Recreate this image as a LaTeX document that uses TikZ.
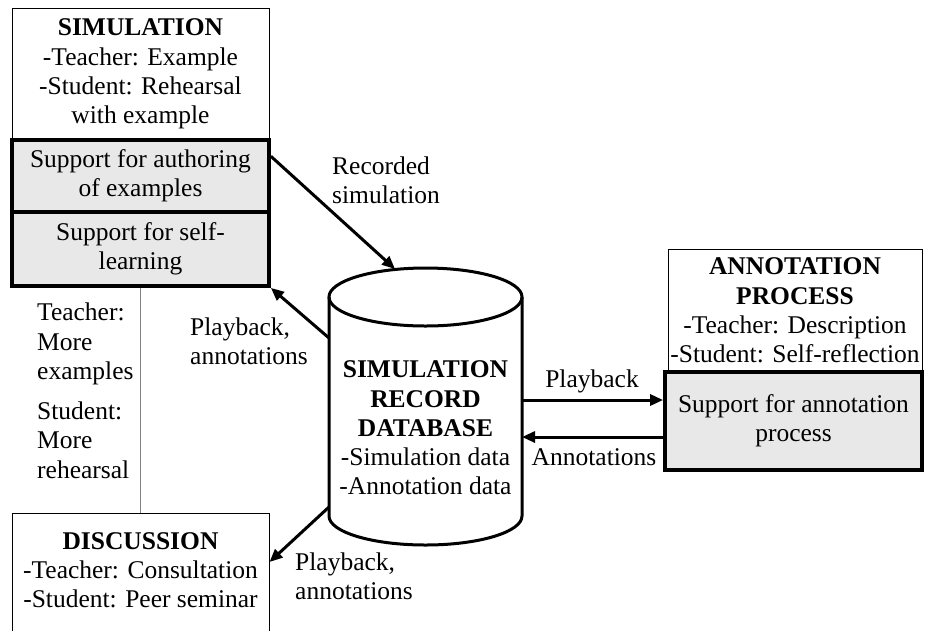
\documentclass[tikz,border=0pt]{standalone}
\usepackage{fontspec}
\setmainfont{Liberation Serif}
\usepackage{tikz}
\usetikzlibrary{calc}
\usetikzlibrary{arrows.meta, positioning}
\definecolor{boxgray}{RGB}{232,232,232}

\begin{document}
\begin{tikzpicture}[x=1pt, y=-1pt, every node/.style={font=\fontsize{25.5}{29.3}\selectfont, inner sep=0pt}, plainbox/.style={draw, line width=1pt, minimum width=257pt, align=center}, supportbox/.style={draw, line width=3.8pt, fill=boxgray, minimum width=257pt, align=center}, flow/.style={-{Triangle[length=13pt,width=11pt]}, line width=3pt}, flowtext/.style={align=left}]
    \useasboundingbox (0,0) rectangle (925,630);
    \node[plainbox, minimum height=132pt] (sim) at (140.5,74) {\textbf{SIMULATION}\\-Teacher: Example\\-Student: Rehearsal\\with example};
    \node[supportbox, minimum height=72pt] (auth) at (140.5,176) {Support for authoring\\of examples};
    \node[supportbox, minimum height=74pt] (self) at (140.5,249) {Support for self-\\learning};
    \node[plainbox, anchor=north, inner ysep=19pt, text depth=60pt] (disc) at (140.5,513) {\textbf{DISCUSSION}\\-Teacher: Consultation\\-Student: Peer seminar};
    \node[plainbox, minimum width=254pt, minimum height=123pt] (anno) at (795,310.5) {\textbf{ANNOTATION}\\\textbf{PROCESS}\\-Teacher: Description\\-Student: Self-reflection};
    \node[supportbox, minimum height=98pt] (annosup) at (793.5,421) {Support for annotation\\process};
    \draw[line width=3pt] (329,297) -- (329,516) arc[start angle=180, end angle=360, x radius=96.5pt, y radius=29pt] -- (522,297);
    \draw[line width=3pt] (425.5,297) ellipse [x radius=96.5pt, y radius=29pt];
    \node[align=center] (db) at (425.5,428) {\textbf{SIMULATION}\\\textbf{RECORD}\\\textbf{DATABASE}\\-Simulation data\\-Annotation data};
    \coordinate (dbtop) at (395,269);
    \coordinate (dbnw) at (329,338);
    \coordinate (dbsw) at (329,507);
    \coordinate (dbe1) at (522,400);
    \coordinate (dbe2) at (522,437);
    \draw[gray, line width=1pt] (self.south) -- (disc.north);
    \node[flowtext, anchor=west] (teach) at (37,344) {Teacher:\\More\\examples};
    \node[flowtext, anchor=west] (stud) at (37,440) {Student:\\More\\rehearsal};
    \draw[flow] ($(auth.north east)!0.24!(auth.south east)$) -- (dbtop);
    \draw[flow] (dbnw) -- (self.south east);
    \draw[flow] (dbsw) -- ($(disc.north east)+(0,49)$);
    \draw[flow] (dbe1) -- (annosup.west |- dbe1);
    \draw[flow] (annosup.west |- dbe2) -- (dbe2);
    \node[flowtext, anchor=west] (recsim) at (332,180) {Recorded\\simulation};
    \node[flowtext, anchor=west] (pbup) at (190,341) {Playback,\\annotations};
    \node[flowtext, anchor=west] (pbdown) at (295,576) {Playback,\\annotations};
    \node[anchor=base] (pbright) at (592,387) {Playback};
    \node[anchor=base] (annright) at (594,465) {Annotations};
\end{tikzpicture}
\end{document}
